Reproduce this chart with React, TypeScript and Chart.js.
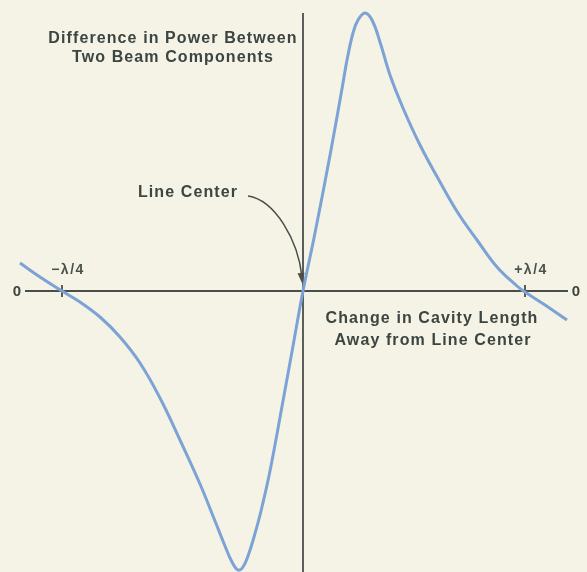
import React, { useEffect, useRef } from "react";
import { Chart, registerables } from "chart.js";

Chart.register(...registerables);

// Change in cavity length (arbitrary units, 0 = line center)
const cavityChange = [
  -283, -263, -241, -223, -203, -183, -163, -143, -123, -103,
  -88, -78, -71, -65, -60, -55, -49, -42, -33, -20,
  -10, 0, 12, 28, 40, 44, 50, 55, 62, 69,
  77, 87, 100, 117, 137, 155, 174, 194, 214, 222,
  242, 264,
];
// Difference in power between the two beam components (arbitrary units)
const powerDifference = [
  28, 14, 0, -11, -26, -46, -72, -107, -149, -193,
  -230, -255, -271, -279, -276, -265, -246, -220, -180, -110,
  -55, 0, 58, 141, 208, 231, 258, 271, 278, 271,
  249, 216, 183, 146, 109, 78, 51, 24, 5, -1,
  -14, -29,
];
const xTickValues = [-241, 222];
const xTickLabels = ["\u2212\u03bb/4", "+\u03bb/4"];
const yTitleLines = ["Difference in Power Between", "Two Beam Components"];
const xTitleLines = ["Change in Cavity Length", "Away from Line Center"];
const centerLabel = "Line Center";
const zeroLabel = "0";

const X_MIN = -303;
const X_MAX = 284;
const Y_MIN = -281;
const Y_MAX = 291;

const BG = "#f4f3e5";
const AXIS = "#4b4d4a";
const TEXT = "#3c4541";
const CURVE = "#7ca2d6";
const FONT = "'Liberation Sans', Arial, Helvetica, sans-serif";

const decor = {
  id: "decor",
  beforeDraw(chart: any) {
    const { ctx, width, height } = chart;
    ctx.save();
    ctx.fillStyle = BG;
    ctx.fillRect(0, 0, width, height);
    ctx.restore();
  },
  beforeDatasetsDraw(chart: any) {
    const ctx = chart.ctx;
    const X = (v: number) => chart.scales.x.getPixelForValue(v);
    const Y = (v: number) => chart.scales.y.getPixelForValue(v);
    ctx.save();
    ctx.strokeStyle = AXIS;
    ctx.lineWidth = 1.8;
    ctx.beginPath();
    ctx.moveTo(X(-278), Y(0));
    ctx.lineTo(X(265), Y(0));
    ctx.stroke();
    ctx.beginPath();
    ctx.moveTo(X(0), Y(278));
    ctx.lineTo(X(0), Y(Y_MIN));
    ctx.stroke();
    xTickValues.forEach((v) => {
      ctx.beginPath();
      ctx.moveTo(X(v), Y(0) - 6);
      ctx.lineTo(X(v), Y(0) + 6);
      ctx.stroke();
    });
    ctx.restore();
  },
  afterDatasetsDraw(chart: any) {
    const ctx = chart.ctx;
    const X = (v: number) => chart.scales.x.getPixelForValue(v);
    const Y = (v: number) => chart.scales.y.getPixelForValue(v);
    ctx.save();

    // arrow from "Line Center" to the origin
    const p0 = [X(-55), Y(95)];
    const p1 = [X(-28), Y(91)];
    const p2 = [X(-5), Y(51)];
    const p3 = [X(-1), Y(8)];
    ctx.strokeStyle = AXIS;
    ctx.lineWidth = 1.5;
    ctx.beginPath();
    ctx.moveTo(p0[0], p0[1]);
    ctx.bezierCurveTo(p1[0], p1[1], p2[0], p2[1], p3[0], p3[1] - 6);
    ctx.stroke();
    const ang = Math.atan2(p3[1] - p2[1], p3[0] - p2[0]);
    const hl = 10, hw = 3.5;
    ctx.fillStyle = AXIS;
    ctx.beginPath();
    ctx.moveTo(p3[0], p3[1]);
    ctx.lineTo(
      p3[0] - hl * Math.cos(ang) + hw * Math.sin(ang),
      p3[1] - hl * Math.sin(ang) - hw * Math.cos(ang)
    );
    ctx.lineTo(
      p3[0] - hl * Math.cos(ang) - hw * Math.sin(ang),
      p3[1] - hl * Math.sin(ang) + hw * Math.cos(ang)
    );
    ctx.closePath();
    ctx.fill();

    ctx.fillStyle = TEXT;
    ctx.textAlign = "center";
    ctx.textBaseline = "middle";
    ctx.font = `bold 16px ${FONT}`;
    (ctx as any).letterSpacing = "1.1px";
    ctx.fillText(yTitleLines[0], X(-130), Y(252));
    ctx.fillText(yTitleLines[1], X(-130), Y(233));
    ctx.fillText(centerLabel, X(-115), Y(98));
    ctx.fillText(xTitleLines[0], X(129), Y(-28));
    ctx.fillText(xTitleLines[1], X(130), Y(-50));

    ctx.font = `bold 15px ${FONT}`;
    (ctx as any).letterSpacing = "0px";
    ctx.fillText(zeroLabel, X(-286), Y(-1));
    ctx.fillText(zeroLabel, X(273), Y(-1));

    ctx.font = `bold 14px ${FONT}`;
    (ctx as any).letterSpacing = "1.5px";
    ctx.fillStyle = "#4a524e";
    xTickValues.forEach((v, i) => {
      ctx.fillText(xTickLabels[i], X(v + 6), Y(21));
    });
    ctx.restore();
  },
};

export default function App() {
  const ref = useRef<HTMLCanvasElement | null>(null);
  useEffect(() => {
    if (!ref.current) return;
    const chart = new Chart(ref.current, {
      type: "line",
      data: {
        datasets: [
          {
            data: cavityChange.map((x, i) => ({ x, y: powerDifference[i] })),
            borderColor: CURVE,
            borderWidth: 3,
            pointRadius: 0,
            fill: false,
            tension: 0.4,
          },
        ],
      },
      options: {
        responsive: false,
        animation: false,
        devicePixelRatio: 1,
        layout: { padding: 0 },
        scales: {
          x: { type: "linear", min: X_MIN, max: X_MAX, display: false },
          y: { type: "linear", min: Y_MIN, max: Y_MAX, display: false },
        },
        plugins: {
          legend: { display: false },
          tooltip: { enabled: false },
        },
      },
      plugins: [decor],
    } as any);
    return () => chart.destroy();
  }, []);
  return (
    <div style={{ position: "fixed", left: 0, top: 0, width: 587, height: 572 }}>
      <canvas ref={ref} width={587} height={572} style={{ display: "block" }} />
    </div>
  );
}
